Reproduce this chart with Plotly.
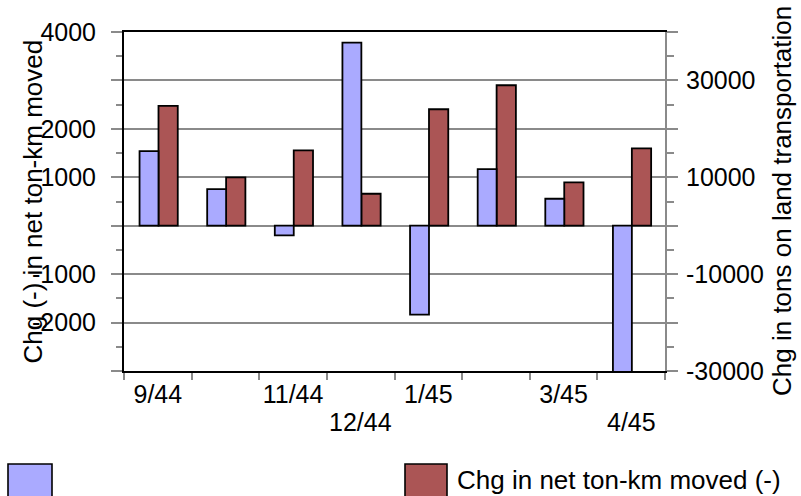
import plotly.graph_objects as go

categories = ["9/44", "10/44", "11/44", "12/44", "1/45", "2/45", "3/45", "4/45"]
tick_labels_row1 = ["9/44", "", "11/44", "", "1/45", "", "3/45", ""]
tick_labels_row2 = ["", "", "", "12/44", "", "", "", "4/45"]
tons_land = [15400, 7570, -2000, 37800, -18350, 11700, 5570, -32000]
tonkm_moved = [2475, 1000, 1555, 660, 2405, 2900, 895, 1595]
left_tickvals = [-3000, -2000, -1000, 0, 1000, 2000, 3000, 4000]
left_ticktext = ["", "-2000", "-1000", "", "1000", "2000", "", "4000"]
right_tickvals = [-30000, -20000, -10000, 0, 10000, 20000, 30000, 40000]
right_ticktext = ["-30000", "", "-10000", "", "10000", "", "30000", ""]
left_minor = [-2500, -1500, -500, 500, 1500, 2500, 3500]
right_minor = [-25000, -15000, -5000, 5000, 15000, 25000, 35000]
legend_label = "Chg in net ton-km moved (-)"
left_title = "Chg (-) in net ton-km moved"
right_title = "Chg in tons on land transportation"

BLUE = "#aaaaff"
RED = "#ab5555"
GRID = "#8a8a8a"
FONT = "Liberation Sans, Arial, sans-serif"

fig = go.Figure()
fig.add_trace(go.Bar(x=categories, y=tons_land, yaxis="y2", name="",
                     marker=dict(color=BLUE, line=dict(color="black", width=1.8)),
                     width=0.28, offset=-0.27, showlegend=False))
fig.add_trace(go.Bar(x=categories, y=tonkm_moved, yaxis="y", name=legend_label,
                     marker=dict(color=RED, line=dict(color="black", width=1.8)),
                     width=0.285, offset=0.01, showlegend=False))

W, H = 801, 496
L, R, T, B = 124, 665, 32, 371
pw, ph = R - L, B - T


def px(x):
    return (x - L) / pw


def py(y):
    return (B - y) / ph


fig.update_layout(
    width=W, height=H,
    margin=dict(l=L, r=W - R, t=T, b=H - B),
    paper_bgcolor="white", plot_bgcolor="white",
    font=dict(family=FONT, size=25, color="black"),
    showlegend=False,
    barmode="overlay",
    xaxis=dict(type="category", categoryorder="array", categoryarray=categories,
               tickmode="array", tickvals=categories, ticktext=tick_labels_row1, tickangle=0,
               tickson="boundaries", ticks="outside", ticklen=7, tickcolor=GRID, tickwidth=1.5,
               showline=True, linecolor="black", linewidth=2, mirror=True, automargin=False,
               showgrid=False, zeroline=False, range=[-0.5, 7.5]),
    xaxis2=dict(overlaying="x", range=[-0.5, 7.5], tickmode="array",
                tickvals=[i - 0.5 for i in range(len(categories) + 1)],
                ticks="inside", ticklen=6, tickcolor=GRID, tickwidth=1.5, automargin=False,
                showticklabels=False, showgrid=False, zeroline=False, showline=False,
                anchor="y", side="bottom"),
    yaxis=dict(range=[-3000, 4000], tickmode="array", tickvals=left_tickvals,
               ticktext=left_ticktext, ticks="outside", ticklen=11, tickcolor=GRID,
               tickwidth=1.5, ticklabelstandoff=10, automargin=False,
               showgrid=True, gridcolor=GRID, gridwidth=1.5, zeroline=False,
               showline=True, linecolor="black", linewidth=2,
               minor=dict(tickmode="array", tickvals=left_minor, ticks="outside",
                          ticklen=6, tickcolor=GRID, tickwidth=1.5, showgrid=False)),
    yaxis3=dict(overlaying="y", side="left", range=[-3000, 4000], tickmode="array",
                tickvals=left_minor, ticks="inside", ticklen=6, tickcolor=GRID,
                tickwidth=1.5, showticklabels=False, showgrid=False, zeroline=False,
                showline=False, anchor="x", automargin=False),
    yaxis2=dict(overlaying="y", side="right", range=[-30000, 40000], tickmode="array",
                tickvals=right_tickvals, ticktext=right_ticktext, ticks="outside",
                ticklen=11, tickcolor=GRID, tickwidth=1.5, ticklabelstandoff=3,
                showgrid=False, zeroline=False, showline=True, linecolor=GRID, linewidth=2,
                automargin=False,
                minor=dict(tickmode="array", tickvals=right_minor, ticks="outside",
                           ticklen=7, tickcolor=GRID, tickwidth=1.5, showgrid=False)),
    yaxis4=dict(overlaying="y", side="right", range=[-30000, 40000], tickmode="array",
                tickvals=right_minor, ticks="inside", ticklen=8, tickcolor=GRID,
                tickwidth=1.5, showticklabels=False, showgrid=False, zeroline=False,
                showline=False, anchor="x", automargin=False),
)

# second (staggered) row of category labels
for cat, lab in zip(categories, tick_labels_row2):
    if lab:
        fig.add_annotation(text=lab, xref="x", yref="paper", x=cat, y=py(422),
                           showarrow=False, font=dict(size=25),
                           xanchor="center", yanchor="middle")

# axis titles placed as in the reference
fig.add_annotation(text=left_title, xref="paper", yref="paper", x=px(32), y=py(201.5),
                   textangle=-90, showarrow=False, font=dict(size=26),
                   xanchor="center", yanchor="middle")
fig.add_annotation(text=right_title, xref="paper", yref="paper", x=px(782), y=py(201),
                   textangle=-90, showarrow=False, font=dict(size=26),
                   xanchor="center", yanchor="middle")

# legend drawn with large swatches
fig.add_shape(type="rect", xref="paper", yref="paper", x0=px(8), x1=px(52),
              y0=py(464), y1=py(497), fillcolor=BLUE, line=dict(color="black", width=1.6))
fig.add_shape(type="rect", xref="paper", yref="paper", x0=px(405), x1=px(447),
              y0=py(464), y1=py(497), fillcolor=RED, line=dict(color="black", width=1.6))
fig.add_annotation(text=legend_label, xref="paper", yref="paper", x=px(455), y=py(480),
                   showarrow=False, font=dict(size=26), xanchor="left", yanchor="middle")

fig.write_html("out.html", config={"displayModeBar": False},
               post_script="document.body.style.margin='0px';document.body.style.padding='0px';")
